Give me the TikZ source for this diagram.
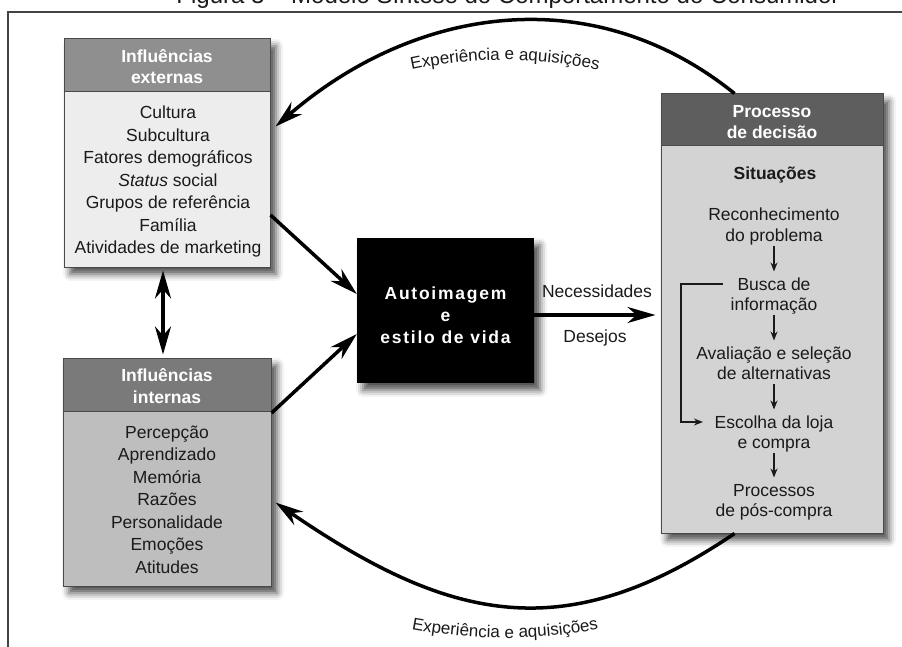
\documentclass[tikz,border=0pt]{standalone}
\usepackage{fontspec}
\setmainfont{Liberation Sans}
\newfontfamily\blkfont{Liberation Sans}[LetterSpace=10]
\usetikzlibrary{arrows.meta,shadows.blur,decorations.text,calc}
\definecolor{extHead}{HTML}{8F8F8F}
\definecolor{extBody}{HTML}{EDEDED}
\definecolor{intHead}{HTML}{7A7A7A}
\definecolor{intBody}{HTML}{BEBEBE}
\definecolor{decHead}{HTML}{5E5E5E}
\definecolor{decBody}{HTML}{D3D3D3}
\definecolor{border}{HTML}{4A4A4A}
\definecolor{ink}{HTML}{1A1A1A}
\definecolor{frameCol}{HTML}{444444}
\newcommand\myBody{\fontsize{17.5}{21}\selectfont}
\newcommand\myHead{\fontsize{17.5}{21}\selectfont\bfseries}
\newcommand\myArc{\fontsize{17}{20}\selectfont}
\begin{document}
\begin{tikzpicture}[x=1pt,y=1pt,
  shadowed/.style={blur shadow={shadow xshift=6pt,shadow yshift=-7pt,shadow blur radius=7pt,shadow opacity=70}},
  panel/.style={draw=border,line width=1pt,inner sep=0pt,shadowed},
  head/.style={draw=border,line width=1pt,inner sep=0pt},
  htext/.style={text=white,font=\myHead,anchor=base,inner sep=0pt},
  item/.style={text=ink,font=\myBody,anchor=base,inner sep=1.5pt},
  blktext/.style={text=white,font=\fontsize{17.5}{20}\selectfont\blkfont\bfseries,anchor=base,inner sep=0pt},
  bigarrow/.style={line width=3.5pt,draw=black,-{Stealth[length=28pt,width=16pt,inset=9pt]}},
  dblarrow/.style={line width=3.5pt,draw=black,{Stealth[length=28pt,width=16pt,inset=9pt]}-{Stealth[length=28pt,width=16pt,inset=9pt]}},
  smallarrow/.style={line width=1.4pt,draw=ink,-{Stealth[length=9pt,width=7pt]}}
]
\useasboundingbox (0,0) rectangle (902,-647);

% title (cut at the top) and frame
\node[anchor=base,text=ink,font=\fontsize{24}{28}\selectfont,inner sep=0pt] (title) at (508,-4) {Figura 3 – Modelo Síntese do Comportamento do Consumidor};
\draw[frameCol,line width=2pt] (906,-12) -- (8,-12) -- (8,-651);

% external influences
\node[panel,fill=extBody,minimum width=206,minimum height=228] (ext) at (167,-153) {};
\node[head,fill=extHead,minimum width=206,minimum height=53,anchor=north] (exth) at (ext.north) {};
\node[htext] (exth1) at (167,-63) {Influências};
\node[htext] (exth2) at (167,-84) {externas};
\foreach \t [count=\i] in {Cultura,Subcultura,Fatores demográficos,{\textit{Status} social},Grupos de referência,Família,Atividades de marketing}
  \node[item] (ext\i) at (168,{-119-22.5*(\i-1)}) {\t};

% internal influences
\node[panel,fill=intBody,minimum width=208,minimum height=228] (int) at (167,-472) {};
\node[head,fill=intHead,minimum width=208,minimum height=53,anchor=north] (inth) at (int.north) {};
\node[htext] (inth1) at (167,-381) {Influências};
\node[htext] (inth2) at (167,-403) {internas};
\foreach \t [count=\i] in {Percepção,Aprendizado,Memória,Razões,Personalidade,Emoções,Atitudes}
  \node[item] (int\i) at (167,{-438-22.5*(\i-1)}) {\t};

% central box
\node[fill=black,minimum width=177,minimum height=145,inner sep=0pt,shadowed] (blk) at (445.5,-310.5) {};
\node[blktext] (blk1) at (445.5,-299) {Autoimagem};
\node[blktext] (blk2) at (445.5,-321) {e};
\node[blktext] (blk3) at (445.5,-343) {estilo de vida};

% decision process
\node[panel,fill=decBody,minimum width=222,minimum height=439] (dec) at (772,-313.5) {};
\node[head,fill=decHead,minimum width=222,minimum height=52,anchor=north] (dech) at (dec.north) {};
\node[htext] (dech1) at (772,-118) {Processo};
\node[htext] (dech2) at (772,-139) {de decisão};
\node[item,font=\myHead] (sit) at (775,-180) {Situações};
\node[item] (r1) at (774,-221) {Reconhecimento};
\node[item] (r2) at (774,-241) {do problema};
\node[item] (b1) at (774,-290) {Busca de};
\node[item] (b2) at (774,-310) {informação};
\node[item] (a1) at (774,-359) {Avaliação e seleção};
\node[item] (a2) at (774,-379) {de alternativas};
\node[item] (c1) at (774,-428) {Escolha da loja};
\node[item] (c2) at (774,-448) {e compra};
\node[item] (p1) at (774,-496) {Processos};
\node[item] (p2) at (774,-516) {de pós-compra};

\draw[smallarrow] ([yshift=-5pt]r2.base) -- ([yshift=18.5pt]b1.base);
\draw[smallarrow] ([yshift=-5pt]b2.base) -- ([yshift=18.5pt]a1.base);
\draw[smallarrow] ([yshift=-5pt]a2.base) -- ([yshift=18.5pt]c1.base);
\draw[smallarrow] ([yshift=-5pt]c2.base) -- ([yshift=18.5pt]p1.base);
\coordinate (brk1) at ($(b1.base west)+(-13,6)$);
\coordinate (brk2) at ($(c1.base west)+(-10,6)$);
\draw[line width=1.4pt,draw=ink,-{Stealth[length=9pt,width=7pt]}] (brk1) -- ++(-42,0) |- (brk2);

% arrows between boxes
\draw[bigarrow] (ext.east |- 0,-215) -- (blk.west |- 0,-294);
\draw[bigarrow] (int.east |- 0,-413) -- (blk.west |- 0,-334);
\draw[dblarrow,shorten <=3pt,shorten >=3pt] ([xshift=-4pt]ext.south) -- ([xshift=-4pt]int.north);
\draw[bigarrow,shorten >=5pt] (blk.east |- 0,-315) -- (dec.west |- 0,-315);
\node[item] (need) at (597,-297) {Necessidades};
\node[item] (want) at (595,-342) {Desejos};

% feedback arcs
\draw[bigarrow] ($(dec.north west)+(74,0)$) .. controls (592,21.5) and (414,-6.5) .. ($(ext.north east)+(5,-88)$);
\draw[bigarrow] ($(dec.south west)+(74,0)$) .. controls (563,-650) and (447,-620) .. ($(int.north east)+(4,-145)$);
\path[decorate,decoration={text along path,text align=center,text={|\myArc\color{ink}|Experiência e aquisições}}]
  (350,-88) .. controls (450,-50.7) and (560,-50.7) .. (660,-88);
\path[decorate,decoration={text along path,text align=center,text={|\myArc\color{ink}|Experiência e aquisições}}]
  (345,-612) .. controls (450,-646.7) and (560,-646.7) .. (665,-612);
\end{tikzpicture}
\end{document}
